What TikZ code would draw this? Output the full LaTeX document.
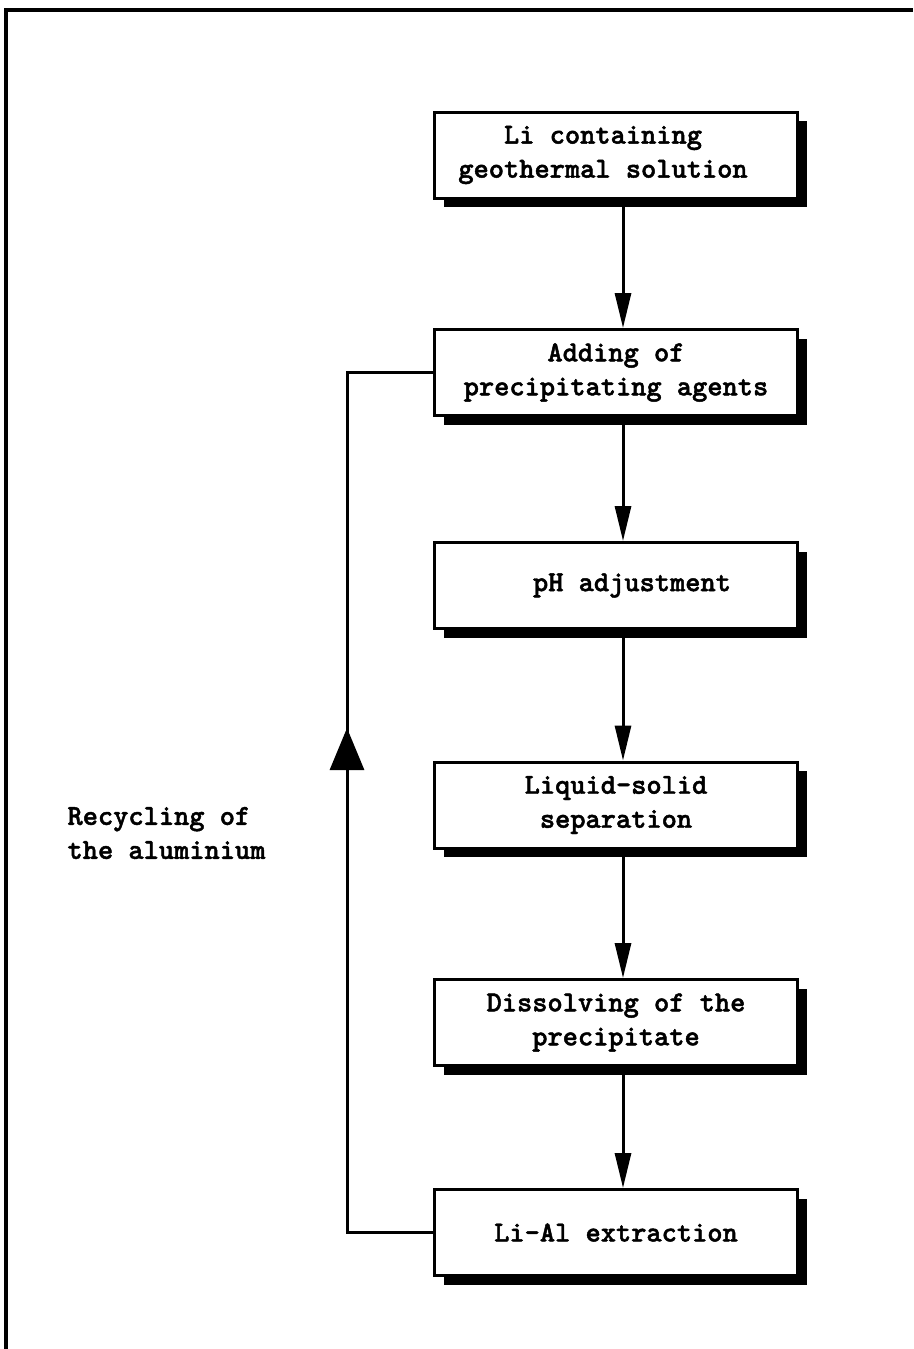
\documentclass[tikz,border=0pt]{standalone}
\usepackage{fontspec}
\newfontfamily\typefont[FakeBold=1.6]{lmmonolt10-bold.otf}
\usetikzlibrary{arrows.meta,shadows}
\begin{document}
\begin{tikzpicture}[x=1pt,y=-1pt,
  txt/.style={font=\typefont\fontsize{29}{34}\selectfont},
  stepbox/.style={txt, draw, line width=3pt, fill=white,
    minimum width=363pt, minimum height=86pt, inner sep=0pt, align=center,
    general shadow={fill=black, shadow xshift=9pt, shadow yshift=-9pt}},
  flow/.style={line width=3pt, -{Triangle[length=35pt,width=16pt]}},
  loop/.style={line width=3pt},
  uparrow/.style={line width=3pt, -{Triangle[length=42pt,width=34pt]}}
]
\useasboundingbox (0,0) rectangle (913,1349);

% outer frame (top and left rules)
\draw[line width=3.5pt] (6,1349) -- (6,10) -- (913,10);

% process steps
\node[stepbox] (b1) at (616,155)   {\hspace*{-26pt}Li containing\\\hspace*{-26pt}geothermal solution};
\node[stepbox] (b2) at (616,372.5) {Adding of\\precipitating agents};
\node[stepbox] (b3) at (616,585.5) {\hspace*{32pt}pH adjustment};
\node[stepbox] (b4) at (616,805)   {Liquid-solid\\separation};
\node[stepbox] (b5) at (616,1022.5){Dissolving of the\\precipitate};
\node[stepbox] (b6) at (616,1232.5){Li-Al extraction};

% downward flow
\draw[flow] ([xshift=7pt]b1.south) -- ([xshift=7pt]b2.north);
\draw[flow] ([xshift=7pt]b2.south) -- ([xshift=7pt]b3.north);
\draw[flow] ([xshift=7pt]b3.south) -- ([xshift=7pt]b4.north);
\draw[flow] ([xshift=7pt]b4.south) -- ([xshift=7pt]b5.north);
\draw[flow] ([xshift=7pt]b5.south) -- ([xshift=7pt]b6.north);

% recycling loop back to the precipitation step
\coordinate (lx) at (347,0);
\coordinate (uptip) at (347,728);
\draw[loop] (b6.west) -- (b6.west -| lx) -- (b2.west -| lx) -- (b2.west);
\draw[uparrow] (b6.west -| lx) -- (uptip);

\node[txt, anchor=west, align=left] (lbl) at (64,833) {Recycling of\\the aluminium};
\end{tikzpicture}
\end{document}
